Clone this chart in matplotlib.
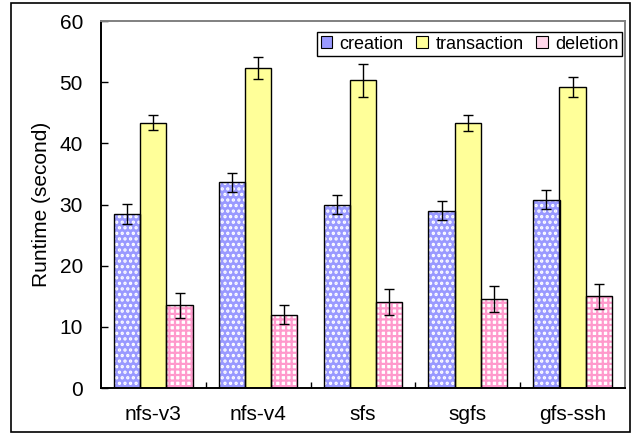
import matplotlib
matplotlib.use("Agg")
import matplotlib.pyplot as plt
import numpy as np
from matplotlib.patches import Rectangle, Patch
from matplotlib.legend_handler import HandlerPatch

plt.rcParams['font.family'] = ['Liberation Sans', 'DejaVu Sans']
plt.rcParams['hatch.linewidth'] = 1.6

# Runtime measurements per file system
systems = ['nfs-v3', 'nfs-v4', 'sfs', 'sgfs', 'gfs-ssh']
series = ['creation', 'transaction', 'deletion']
creation = [28.5, 33.6, 30.0, 29.0, 30.8]
creation_err = [1.65, 1.55, 1.6, 1.5, 1.6]
transaction = [43.4, 52.3, 50.3, 43.3, 49.2]
transaction_err = [1.2, 1.8, 2.7, 1.35, 1.7]
deletion = [13.5, 12.0, 14.1, 14.5, 15.0]
deletion_err = [2.0, 1.5, 2.1, 2.15, 2.05]
yticks = [0, 10, 20, 30, 40, 50, 60]

styles = [
    dict(face='#9999FF', hatch='...', hatch_col='white'),
    dict(face='#FFFF99', hatch=None, hatch_col=None),
    dict(face='white', hatch='+++', hatch_col='#FF99CC'),
]

fig = plt.figure(figsize=(6.39, 4.40), dpi=100)
fig.patches.append(Rectangle((11 / 639, 8 / 440), 619 / 639, 429 / 440,
                             transform=fig.transFigure, fill=False,
                             edgecolor='black', linewidth=1.2))
ax = fig.add_axes([101 / 639, 1 - 388 / 440, 524 / 639, 367 / 440])

x = np.arange(len(systems))
width = 0.25
values = [creation, transaction, deletion]
errors = [creation_err, transaction_err, deletion_err]

for i, (vals, errs, st) in enumerate(zip(values, errors, styles)):
    pos = x + (i - 1) * width
    if st['hatch']:
        ax.bar(pos, vals, width, color=st['face'], hatch=st['hatch'],
               edgecolor=st['hatch_col'], linewidth=0, zorder=2)
    else:
        ax.bar(pos, vals, width, color=st['face'], linewidth=0, zorder=2)
    ax.bar(pos, vals, width, fill=False, edgecolor='black', linewidth=1.0,
           zorder=3)
    ax.errorbar(pos, vals, yerr=errs, fmt='none', ecolor='black',
                elinewidth=1.0, capsize=3.5, capthick=1.0, zorder=4)

ax.set_xlim(-0.5, len(systems) - 0.5)
ax.set_ylim(0, 60)
ax.set_yticks(yticks)
ax.set_xticks(x)
ax.set_xticklabels(systems)
ax.set_xticks(np.arange(len(systems) - 1) + 0.5, minor=True)
ax.tick_params(axis='x', which='major', length=0, pad=12, labelsize=15)
ax.tick_params(axis='x', which='minor', direction='in', length=4,
               width=1.0, color='black')
ax.tick_params(axis='y', direction='in', length=5, width=1.0, pad=13,
               labelsize=15)
ax.set_ylabel('Runtime (second)', fontsize=15, labelpad=6)

for side in ['left', 'bottom']:
    ax.spines[side].set_color('black')
    ax.spines[side].set_linewidth(1.4)
for side in ['top', 'right']:
    ax.spines[side].set_color('#808080')
    ax.spines[side].set_linewidth(1.4)


class SquareHandler(HandlerPatch):
    def create_artists(self, legend, orig_handle, xdescent, ydescent,
                       width, height, fontsize, trans):
        s = min(width, height)
        p = Rectangle((-xdescent + (width - s) / 2, -ydescent + (height - s) / 2),
                      s, s, facecolor=orig_handle.get_facecolor(),
                      edgecolor='black', linewidth=0.8, transform=trans)
        return [p]


handles = [Patch(facecolor='#9999FF', edgecolor='black'),
           Patch(facecolor='#FFFF99', edgecolor='black'),
           Patch(facecolor='#FFD6EA', edgecolor='black')]
leg = ax.legend(handles, series, loc='upper right',
                bbox_to_anchor=(1 - 3 / 524, 1 - 11 / 367), ncol=3,
                fontsize=13, frameon=True, fancybox=False, framealpha=1,
                edgecolor='black', handlelength=0.65, handleheight=0.65,
                handletextpad=0.4, columnspacing=0.7, borderpad=0.2,
                borderaxespad=0,
                handler_map={Patch: SquareHandler()})
leg.get_frame().set_linewidth(1.0)

fig.savefig('out.png', dpi=100)
